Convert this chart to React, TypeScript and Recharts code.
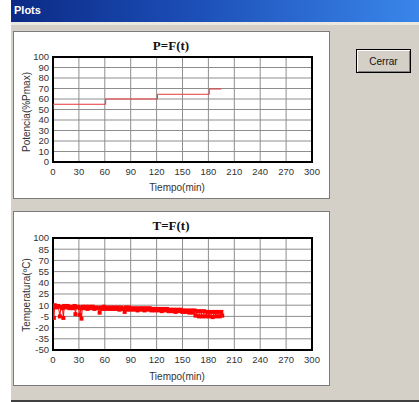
import React from 'react';
import {
  LineChart,
  Line,
  XAxis,
  YAxis,
  CartesianGrid,
  ReferenceArea,
} from 'recharts';

// time axis (minutes)
const timeTicks = [0, 30, 60, 90, 120, 150, 180, 210, 240, 270, 300];

// P=F(t) : power steps, % of Pmax
const powerTime = [0, 0, 61, 61, 121, 121, 181, 181, 195];
const powerValue = [50, 55, 55, 60, 60, 64.5, 64.5, 69.5, 69.5];
const powerTicks = [0, 10, 20, 30, 40, 50, 60, 70, 80, 90, 100];

// T=F(t) : temperature readings, ºC
const tempTime = [
  0, 1, 2, 4, 6, 8, 9, 11, 12, 13, 15, 17, 19, 21, 23, 25, 26, 27, 29, 31,
  32, 33, 34, 36, 38, 40, 42, 44, 46, 48, 50, 52, 54, 55, 57, 59, 61, 63, 65, 67,
  69, 71, 73, 75, 77, 79, 81, 83, 84, 86, 88, 90, 92, 94, 96, 98, 100, 102, 104, 106,
  108, 110, 112, 114, 116, 118, 120, 122, 124, 126, 128, 130, 132, 134, 136, 138, 140, 142, 144, 146,
  148, 150, 152, 154, 156, 158, 160, 162, 164, 165, 167, 169, 171, 173, 175, 177, 179, 181, 183, 185,
  187, 189, 191, 193, 195, 196,
];
const tempValue = [
  9, -7, 10, 7, 9, -5, 8, 6, -7, 9, 7, 9, 6, 8, 6, 9, -2, 7, 8, -3,
  6, -8, 8, 6, 8, 5, 8, 6, 8, 5, 7, 6, 0, 7, 5, 8, 5, 7, 5, 7,
  5, 7, 5, 7, 4, 7, 5, 1, 7, 4, 7, 4, 6, 4, 6, 3, 6, 4, 6, 3,
  6, 4, 6, 3, 5, 3, 5, 3, 5, 2, 5, 3, 5, 2, 4, 2, 4, 1, 4, 2,
  4, 1, 3, 1, 3, 0, 3, 0, 3, -4, 2, -5, 2, -5, 2, -5, 1, -5, 1, -6,
  1, -5, 1, -5, 1, -4,
];
const tempTicks = [-50, -35, -20, -5, 10, 25, 40, 55, 70, 85, 100];

const powerData = powerTime.map((t, i) => ({ t, v: powerValue[i] }));
const tempData = tempTime.map((t, i) => ({ t, v: tempValue[i] }));

const SANS = 'Arial, "Liberation Sans", sans-serif';
const SERIF = '"Times New Roman", "Liberation Serif", serif';

const centered = (left: number, top: number): React.CSSProperties => ({
  position: 'absolute',
  left,
  top,
  transform: 'translate(-50%, -50%)',
  whiteSpace: 'nowrap',
  lineHeight: 1,
});

interface PlotPanelProps {
  top: number;
  height: number;
  title: string;
  yLabel: string;
  yLabelY: number;
  xLabelY: number;
  data: { t: number; v: number }[];
  yTicks: number[];
  squares?: boolean;
}

function SquareDot(props: any) {
  const { cx, cy, index } = props;
  if (cx == null || cy == null) return null;
  return <rect key={`d${index}`} x={cx - 2} y={cy - 2} width={4} height={4} fill="#f00" />;
}

function PlotPanel({ top, height, title, yLabel, yLabelY, xLabelY, data, yTicks, squares }: PlotPanelProps) {
  const innerW = 315;
  const innerH = height - 2;
  const yMin = yTicks[0];
  const yMax = yTicks[yTicks.length - 1];
  return (
    <div
      style={{
        position: 'absolute',
        left: 13,
        top,
        width: 317,
        height,
        boxSizing: 'border-box',
        border: '1px solid #7b7b7b',
        background: '#fff',
      }}
    >
      <div style={{ ...centered(157, 13), fontFamily: SERIF, fontWeight: 'bold', fontSize: 13, color: '#111' }}>
        {title}
      </div>
      <div
        style={{
          ...centered(13, yLabelY),
          transform: 'translate(-50%, -50%) rotate(-90deg)',
          fontFamily: SANS,
          fontSize: 10,
          color: '#333',
        }}
      >
        {yLabel}
      </div>
      <div style={{ ...centered(163, xLabelY), fontFamily: SANS, fontSize: 10, color: '#333' }}>Tiempo(min)</div>
      <div style={{ position: 'absolute', left: 0, top: 0 }}>
        <LineChart
          width={innerW}
          height={innerH}
          data={data}
          margin={{ top: squares ? 26 : 25, right: 17, left: 0, bottom: 0 }}
        >
          <CartesianGrid stroke="#8e8e8e" strokeWidth={1} />
          <XAxis
            type="number"
            dataKey="t"
            domain={[0, 300]}
            ticks={timeTicks}
            interval={0}
            height={innerH - (squares ? 138 : 130)}
            axisLine={false}
            tickLine={false}
            tickSize={5}
            tickMargin={1}
            tick={{ fontSize: 9.5, fill: '#333', fontFamily: SANS }}
            allowDataOverflow
          />
          <YAxis
            type="number"
            dataKey="v"
            domain={[yMin, yMax]}
            ticks={yTicks}
            interval={0}
            width={39}
            axisLine={false}
            tickLine={false}
            tickSize={4}
            tickMargin={0}
            tick={{ fontSize: 9.5, fill: '#333', fontFamily: SANS }}
            allowDataOverflow
          />
          <ReferenceArea
            x1={0}
            x2={300}
            y1={yMin}
            y2={yMax}
            fill="none"
            fillOpacity={0}
            stroke="#000"
            strokeWidth={2}
          />
          <Line
            type="linear"
            dataKey="v"
            stroke={squares ? '#f00' : '#e8383a'}
            strokeWidth={1}
            dot={squares ? SquareDot : false}
            activeDot={false}
            isAnimationActive={false}
          />
        </LineChart>
      </div>
    </div>
  );
}

export default function App() {
  return (
    <div style={{ position: 'fixed', left: 0, top: 0, width: 419, height: 402, background: '#fff', overflow: 'hidden' }}>
      {/* window body */}
      <div style={{ position: 'absolute', left: 11, top: 22, width: 408, height: 378, background: '#d4d0c8' }} />
      <div style={{ position: 'absolute', left: 11, top: 22, width: 408, height: 3, background: '#ebe8e0' }} />
      <div style={{ position: 'absolute', left: 11, top: 400, width: 408, height: 2, background: '#404040' }} />
      {/* title bar */}
      <div
        style={{
          position: 'absolute',
          left: 11,
          top: 0,
          width: 408,
          height: 22,
          background: 'linear-gradient(to right, #0b2a85 0%, #1c4fb8 45%, #3a86ea 100%)',
        }}
      >
        <div
          style={{
            position: 'absolute',
            left: 3,
            top: 5,
            fontFamily: SANS,
            fontWeight: 'bold',
            fontSize: 11,
            color: '#fff',
            lineHeight: 1,
          }}
        >
          Plots
        </div>
      </div>

      <PlotPanel
        top={31}
        height={168}
        title="P=F(t)"
        yLabel="Potencia(%Pmax)"
        yLabelY={80}
        xLabelY={156}
        data={powerData}
        yTicks={powerTicks}
      />
      <PlotPanel
        top={211}
        height={175}
        title="T=F(t)"
        yLabel="Temperatura(ºC)"
        yLabelY={83}
        xLabelY={165}
        data={tempData}
        yTicks={tempTicks}
        squares
      />

      {/* button */}
      <div
        style={{
          position: 'absolute',
          left: 356,
          top: 49,
          width: 55,
          height: 24,
          boxSizing: 'border-box',
          border: '1px solid #000',
          background: '#d4d0c8',
          boxShadow: 'inset 1px 1px #fff, inset -1px -1px #808080',
          fontFamily: SANS,
          fontSize: 10,
          color: '#111',
          display: 'flex',
          alignItems: 'center',
          justifyContent: 'center',
        }}
      >
        Cerrar
      </div>
    </div>
  );
}
